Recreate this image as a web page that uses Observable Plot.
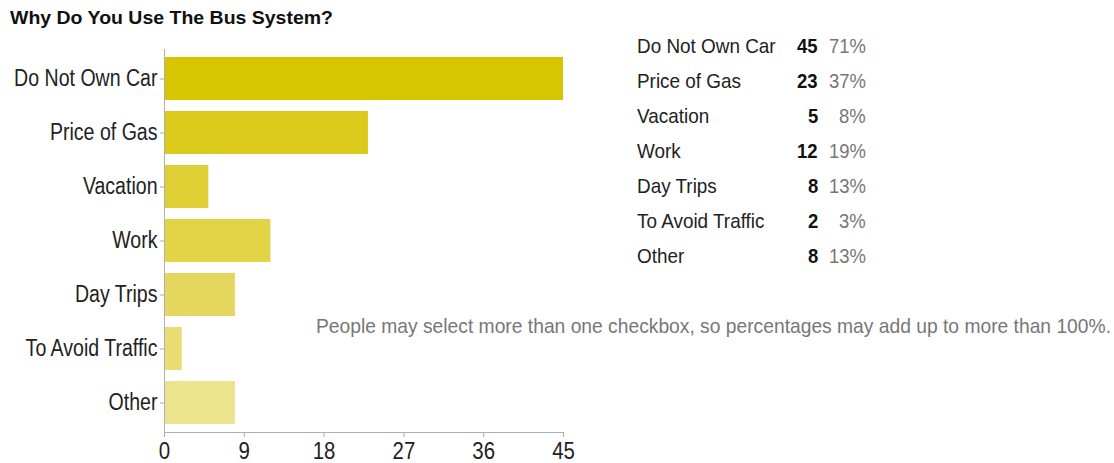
<!DOCTYPE html>
<html>
<head>
<meta charset="utf-8">
<script src="https://cdn.jsdelivr.net/npm/d3@7"></script>
<script src="https://cdn.jsdelivr.net/npm/@observablehq/plot@0.6"></script>
<style>
  html, body { margin: 0; padding: 0; background: #fff; }
  body { width: 1114px; height: 463px; position: relative; overflow: hidden;
         font-family: "Liberation Sans", Arial, sans-serif; }
  #chart { position: absolute; left: 0; top: 0; }
  .fit { position: absolute; white-space: nowrap; transform-origin: left top; }
  #title { left: 10px; top: 8px; font-size: 18px; font-weight: bold; color: #111; }
  .lab { font-size: 21px; color: #222; }
  .cnt { font-size: 21px; font-weight: bold; color: #111; }
  .pct { font-size: 21px; color: #777; }
  #note { left: 316px; top: 314px; font-size: 21px; color: #777; }
</style>
</head>
<body>
<div id="chart"></div>
<div id="title" class="fit"></div>
<div id="table"></div>
<div id="note" class="fit"></div>
<script>
const title = "Why Do You Use The Bus System?";
const categories = ["Do Not Own Car", "Price of Gas", "Vacation", "Work", "Day Trips", "To Avoid Traffic", "Other"];
const counts = [45, 23, 5, 12, 8, 2, 8];
const percents = [71, 37, 8, 19, 13, 3, 13];
const xTicks = [0, 9, 18, 27, 36, 45];
const note = "People may select more than one checkbox, so percentages may add up to more than 100%.";
const palette = ["#d6c500", "#dbca1c", "#dfcf34", "#e2d347", "#e5d75d", "#e8dc72", "#ece38d"];

const rows = categories.map((c, i) => ({category: c, count: counts[i], percent: percents[i], color: palette[i]}));

const chart = Plot.plot({
  width: 1114,
  height: 463,
  marginLeft: 164,
  marginRight: 551,
  marginTop: 49,
  marginBottom: 31,
  style: {fontFamily: '"Liberation Sans", Arial, sans-serif', fontSize: "22px", color: "#222", background: "transparent"},
  x: {domain: [0, 45], ticks: xTicks, tickSize: 5, tickPadding: 4, label: null},
  y: {domain: categories, paddingInner: 0.21, paddingOuter: 0.11, tickSize: 4, tickPadding: 3, label: null},
  marks: [
    Plot.barX(rows, {x: "count", y: "category", fill: "color"}),
    Plot.ruleX([0], {stroke: "#b0b0b0"})
  ]
});
document.getElementById("chart").appendChild(chart);
chart.querySelectorAll("[aria-label='x-axis tick'], [aria-label='y-axis tick']").forEach(g => g.setAttribute("stroke", "#aaa"));
chart.querySelectorAll("[aria-label='y-axis tick label']").forEach(g => g.setAttribute("font-size", "23"));
chart.querySelectorAll("[aria-label='x-axis tick label']").forEach(g => g.setAttribute("font-size", "24"));

// x-axis baseline along the bottom of the frame, from the library's x scale
const xs = chart.scale("x");
const yBottom = 463 - 31;
d3.select(chart).append("line")
  .attr("x1", xs.apply(xTicks[0])).attr("x2", xs.apply(xTicks[xTicks.length - 1]))
  .attr("y1", yBottom + 0.5).attr("y2", yBottom + 0.5)
  .attr("stroke", "#b0b0b0");

// narrow the glyphs like the reference
chart.querySelectorAll("text").forEach(t => {
  const w = t.getComputedTextLength();
  if (w > 0) { t.setAttribute("textLength", (w * 0.85).toFixed(1)); t.setAttribute("lengthAdjust", "spacingAndGlyphs"); }
});

function fitTo(el, target) {
  const w = el.getBoundingClientRect().width;
  el.style.transform = `scaleX(${target / w})`;
}
function place(el, left, top, ratio, alignRight) {
  el.style.top = top + "px";
  document.body.appendChild(el);
  const w = el.getBoundingClientRect().width;
  el.style.transform = `scaleX(${ratio})`;
  el.style.left = (alignRight ? left - w * ratio : left) + "px";
}

const t = document.getElementById("title");
t.textContent = title;
fitTo(t, 323);
const n = document.getElementById("note");
n.textContent = note;
fitTo(n, 795);

rows.forEach((r, i) => {
  const top = 33.5 + i * 35;
  const lab = document.createElement("div"); lab.className = "fit lab"; lab.textContent = r.category;
  place(lab, 637, top, 0.9, false);
  const cnt = document.createElement("div"); cnt.className = "fit cnt"; cnt.textContent = r.count;
  place(cnt, 818, top, 0.88, true);
  const pct = document.createElement("div"); pct.className = "fit pct"; pct.textContent = r.percent + "%";
  place(pct, 866, top, 0.88, true);
});
</script>
</body>
</html>
